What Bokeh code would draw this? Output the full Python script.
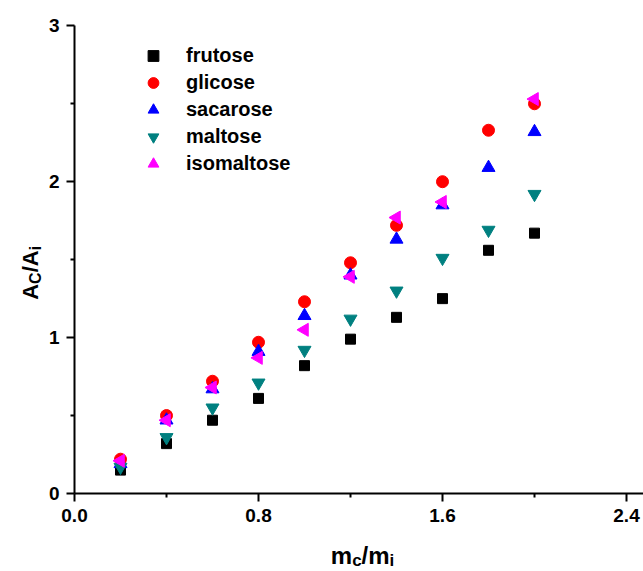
import numpy as np
from bokeh.plotting import figure
from bokeh.models import (Range1d, FixedTicker, NumeralTickFormatter, Legend,
                          LegendItem, Label)
from bokeh.embed import file_html
from bokeh.resources import INLINE

# ---------------- data ----------------
mass_ratio = [0.2, 0.4, 0.6, 0.8, 1.0, 1.2, 1.4, 1.6, 1.8, 2.0]
frutose = [0.15, 0.32, 0.47, 0.61, 0.82, 0.99, 1.13, 1.25, 1.56, 1.67]
glicose = [0.22, 0.50, 0.72, 0.97, 1.23, 1.48, 1.72, 2.00, 2.33, 2.50]
sacarose = [0.19, 0.47, 0.67, 0.91, 1.14, 1.40, 1.63, 1.85, 2.09, 2.32]
maltose = [0.17, 0.36, 0.55, 0.71, 0.92, 1.12, 1.30, 1.51, 1.69, 1.92]
isomaltose_ratio = [0.2, 0.4, 0.6, 0.8, 1.0, 1.2, 1.4, 1.6, 2.0]
isomaltose = [0.21, 0.47, 0.68, 0.87, 1.05, 1.39, 1.77, 1.87, 2.53]

x_ticks = [0.0, 0.8, 1.6, 2.4]
x_minor = [0.4, 1.2, 2.0]
y_ticks = [0, 1, 2, 3]
y_minor = [0.5, 1.5, 2.5]

# ---------------- layout ----------------
FONT = "Liberation Sans"
W, H = 643, 571
# pixel positions of the axes inside the canvas
X0_PX, Y0_PX = 74, 493          # where data (0, 0) sits
X_PER_PX = 1 / 230.0            # data units per pixel along x
Y_PER_PX = 3.0 / (493 - 25.3)   # data units per pixel along y
X_LO = -X0_PX * X_PER_PX
X_HI = (W - X0_PX) * X_PER_PX
Y_LO = -(H - Y0_PX) * Y_PER_PX
Y_HI = Y0_PX * Y_PER_PX

p = figure(width=W, height=H, x_range=Range1d(X_LO, X_HI), y_range=Range1d(Y_LO, Y_HI),
           output_backend="svg", toolbar_location=None,
           min_border=0, min_border_left=0, min_border_right=0,
           min_border_top=0, min_border_bottom=0)
p.outline_line_color = None
p.xgrid.visible = False
p.ygrid.visible = False
p.background_fill_color = "white"
p.border_fill_color = "white"

for ax in (p.xaxis[0], p.yaxis[0]):
    ax.fixed_location = 0
    ax.axis_line_width = 2
    ax.major_tick_line_width = 2
    ax.minor_tick_line_width = 2
    ax.major_tick_in = 0
    ax.minor_tick_in = 0
    ax.major_tick_out = 8
    ax.minor_tick_out = 4
    ax.major_label_text_font = FONT
    ax.major_label_text_font_style = "bold"
    ax.major_label_text_font_size = "19px"
    ax.major_label_text_color = "black"
    ax.axis_label = None

p.xaxis[0].bounds = (0, X_HI)
p.yaxis[0].bounds = (0, 3)
p.xaxis[0].ticker = FixedTicker(ticks=x_ticks, minor_ticks=x_minor)
p.xaxis[0].formatter = NumeralTickFormatter(format="0.0")
p.xaxis[0].major_label_standoff = 7
p.yaxis[0].ticker = FixedTicker(ticks=y_ticks, minor_ticks=y_minor)
p.yaxis[0].formatter = NumeralTickFormatter(format="0")
p.yaxis[0].major_label_standoff = 7

r1 = p.scatter(mass_ratio, frutose, marker="square", size=10, color="black")
r2 = p.scatter(mass_ratio, glicose, marker="circle", size=12, color="#FF0000")
r3 = p.scatter(mass_ratio, sacarose, marker="triangle", size=13, color="#0000FF")
r4 = p.scatter(mass_ratio, maltose, marker="inverted_triangle", size=13, color="#008080")
r5 = p.scatter(isomaltose_ratio, isomaltose, marker="triangle", angle=np.pi / 2,
               size=13, color="#FF00FF")

legend = Legend(items=[LegendItem(label="frutose", renderers=[r1]),
                       LegendItem(label="glicose", renderers=[r2]),
                       LegendItem(label="sacarose", renderers=[r3]),
                       LegendItem(label="maltose", renderers=[r4]),
                       LegendItem(label="isomaltose", renderers=[r5])],
                location=(138, 394), glyph_width=30, glyph_height=27,
                label_height=27, spacing=0, padding=0, margin=0,
                label_standoff=18, label_text_font=FONT,
                label_text_font_style="bold", label_text_font_size="20px",
                label_text_color="black",
                border_line_alpha=0, background_fill_alpha=0)
p.add_layout(legend)


def add_text(px, py, txt, size, angle=0.0):
    p.add_layout(Label(x=px, y=py, x_units="canvas", y_units="canvas",
                       text=txt, angle=angle, text_font=FONT,
                       text_font_style="bold", text_font_size=f"{size}px",
                       text_align="left", text_baseline="alphabetic",
                       text_color="black"))


# x axis title: m_c/m_i
xs = 330.3
base = 555
add_text(xs, base, "m", 24)
xs += 0.889 * 24
add_text(xs, base + 5, "c", 17)
xs += 0.556 * 17
add_text(xs, base, "/m", 24)
xs += (0.278 + 0.889) * 24
add_text(xs, base + 5, "i", 17)

# y axis title: A_C/A_i (rotated)
ys = 299.3
bx = 30
add_text(bx, ys, "A", 22, np.pi / 2)
ys -= 0.722 * 22
add_text(bx + 5, ys, "C", 16, np.pi / 2)
ys -= 0.722 * 16
add_text(bx, ys, "/A", 22, np.pi / 2)
ys -= (0.278 + 0.722) * 22
add_text(bx + 5, ys, "i", 16, np.pi / 2)

open("out.html", "w").write(file_html(p, INLINE))
